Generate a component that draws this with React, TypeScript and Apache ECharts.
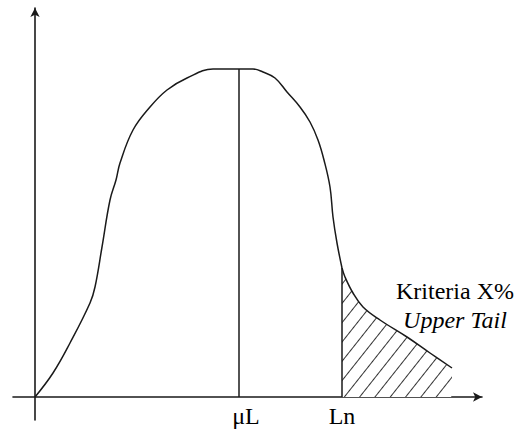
import React, { useEffect, useRef } from "react";
import * as echarts from "echarts";

// Curve (x: distance along the axis, y: height)
const curveX = [0, 18, 35, 55, 60, 67, 75, 81, 85, 98, 115, 132, 152, 178, 204, 218, 228, 240, 252, 265, 275, 283, 289, 295, 298, 302, 307, 310, 318, 328, 345, 372, 395, 417];
const curveY = [0, 24, 54, 94, 110, 150, 197, 217, 234, 267, 290, 307, 319, 328, 328, 328, 325, 319, 305, 290, 275, 257, 237, 210, 180, 154, 129, 120, 104, 90, 77, 60, 44, 29];

const muLValue = 204;
const lnValue = 307;
const axisLabels = ["μL", "Ln"];
const noteLines = ["Kriteria X%", "Upper Tail"];

const FONT = '"Liberation Serif", "Times New Roman", serif';
const INK = "#1a1a1a";

export default function App() {
  const ref = useRef<HTMLDivElement>(null);

  useEffect(() => {
    if (!ref.current) return;
    const chart = echarts.init(ref.current, undefined, { renderer: "svg" });

    const curve = curveX.map((x, i) => [x, curveY[i]]);
    const body = curve.filter((p) => p[0] <= lnValue);
    const tail = curve.filter((p) => p[0] >= lnValue);
    const peak = curveY[curveX.indexOf(muLValue)];
    const lnTop = curveY[curveX.indexOf(lnValue)];

    const labelStyle = {
      show: true,
      position: "start",
      distance: 7,
      color: "#000",
      fontFamily: FONT,
      fontSize: 24,
    };

    chart.setOption({
      animation: false,
      backgroundColor: "#ffffff",
      grid: {
        left: 13,
        right: 41,
        top: 8,
        bottom: 10,
        containLabel: false,
        outerBoundsMode: "none",
      },
      xAxis: {
        type: "value",
        min: -22,
        max: 447,
        splitLine: { show: false },
        axisLine: {
          show: true,
          onZero: true,
          symbol: ["none", "arrow"],
          symbolSize: [7, 9],
          lineStyle: { color: INK, width: 1.6 },
        },
        axisTick: { show: false },
        axisLabel: { show: false },
      },
      yAxis: {
        type: "value",
        min: -23,
        max: 389,
        splitLine: { show: false },
        axisLine: {
          show: true,
          onZero: true,
          symbol: ["none", "arrow"],
          symbolSize: [7, 9],
          lineStyle: { color: INK, width: 1.6 },
        },
        axisTick: { show: false },
        axisLabel: { show: false },
      },
      series: [
        {
          type: "line",
          data: body,
          smooth: 0.4,
          symbol: "none",
          lineStyle: { width: 1.5, color: INK },
          z: 3,
          markLine: {
            silent: true,
            symbol: "none",
            lineStyle: { type: "solid", color: INK, width: 1.5 },
            label: labelStyle,
            data: [
              [
                {
                  coord: [muLValue, 0],
                  label: {
                    ...labelStyle,
                    formatter: "{a|" + axisLabels[0] + "}",
                    rich: { a: { fontFamily: FONT, fontSize: 24, color: "#000", padding: [0, 0, 0, 14] } },
                  },
                },
                { coord: [muLValue, peak] },
              ],
              [
                { coord: [lnValue, 0], label: { ...labelStyle, formatter: axisLabels[1] } },
                { coord: [lnValue, lnTop] },
              ],
            ],
          },
        },
        {
          type: "line",
          data: tail,
          smooth: 0.4,
          symbol: "none",
          lineStyle: { width: 1.5, color: INK },
          itemStyle: {
            color: INK,
            decal: {
              symbol: "rect",
              symbolSize: 1,
              dashArrayX: [1, 0],
              dashArrayY: [1, 10.5],
              rotation: -0.9,
              color: "#333",
            },
          },
          areaStyle: { color: "#ffffff", opacity: 1, origin: 0 },
          z: 2,
        },
      ],
      graphic: [
        {
          type: "text",
          x: 455,
          y: 291,
          style: {
            text: noteLines[0],
            font: "24px " + FONT,
            fill: "#000",
            textAlign: "center",
            textVerticalAlign: "middle",
          },
        },
        {
          type: "text",
          x: 455,
          y: 320,
          style: {
            text: noteLines[1],
            font: "italic 24px " + FONT,
            fill: "#000",
            textAlign: "center",
            textVerticalAlign: "middle",
          },
        },
      ],
    });

    return () => chart.dispose();
  }, []);

  return (
    <div
      ref={ref}
      style={{ position: "fixed", left: 0, top: 0, width: 523, height: 430, background: "#fff" }}
    />
  );
}
